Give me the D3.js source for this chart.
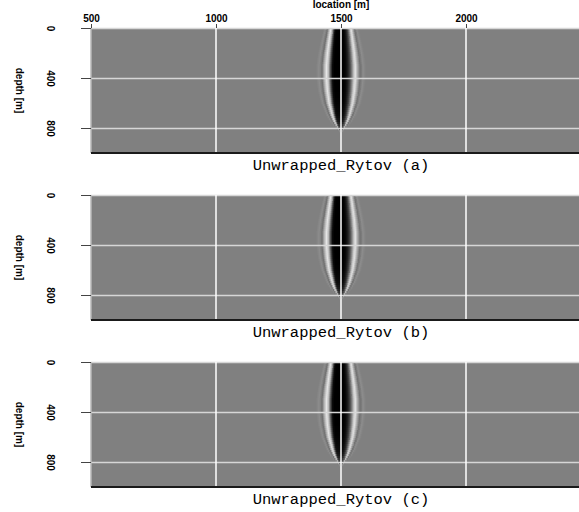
<!DOCTYPE html>
<meta charset="utf-8">
<title>Unwrapped Rytov</title>
<style>
body { margin: 0; background: #fff; }
svg { display: block; }
.tick text { font-family: "Liberation Sans", Arial, sans-serif; font-weight: bold; font-size: 10px; }
.title { font-family: "Courier New", "Liberation Mono", monospace; font-size: 15.5px; }
</style>
<svg width="579" height="512"></svg>
<script src="https://d3js.org/d3.v7.min.js"></script>
<script>

var panels = ["(a)", "(b)", "(c)"];
var xTicks = [500, 1000, 1500, 2000];
var yTicks = [0, 400, 800];
var center = 1500;

// lateral amplitude profile across the anomaly (offset from 1500 m, -1 = black, +1 = white)
var offsets = [-120, -100, -88, -76, -66, -58, -50, -42, -34, -26, -12, 0, 12, 20, 28, 36, 44, 52, 58, 66, 76, 88, 100, 120];
var profile = [0, 0, 0.1, -0.12, 0.45, 0.8, 0.45, -0.35, -0.92, -1, -1, -1, -1, -0.92, -0.75, -0.45, 0.05, 0.6, 0.75, 0.35, -0.12, 0.1, 0, 0];

// envelope with depth: width factor and amplitude factor
var depths = [0, 100, 200, 300, 400, 500, 600, 700, 750, 800, 840];
var widthF = [0.7, 0.82, 0.93, 1.0, 1.0, 0.94, 0.82, 0.6, 0.44, 0.22, 0.05];
var ampF   = [1, 1, 1, 1, 1, 1, 0.98, 0.92, 0.8, 0.45, 0];

var svg = d3.select("svg"),
    width = +svg.attr("width");

var x = d3.scaleLinear().domain([500, 2500]).range([91, 591]);
var prof = d3.scaleLinear().domain(offsets).range(profile).clamp(true);
var wEnv = d3.scaleLinear().domain(depths).range(widthF).clamp(true);
var aEnv = d3.scaleLinear().domain(depths).range(ampF).clamp(true);
var gray = d3.scaleLinear().domain([-1, 0, 1]).range(["#000000", "#808080", "#ffffff"]).clamp(true);

// cells of the image
var dx = 4, dz = 16, cells = [];
d3.range(-120, 120, dx).forEach(function(o) {
  d3.range(0, 1000, dz).forEach(function(z) {
    var zc = z + dz / 2, wf = wEnv(zc), a = aEnv(zc);
    var v = wf > 0.01 ? prof((o + dx / 2) / wf) * a : 0;
    if (Math.abs(v) > 0.01) cells.push({x: center + o, z: z, v: v});
  });
});

panels.forEach(function(label, i) {
  var top = 28 + i * 167, h = 125;
  var y = d3.scaleLinear().domain([0, 1000]).range([top, top + h]);
  var g = svg.append("g");

  g.append("rect")
    .attr("x", x(500)).attr("y", top)
    .attr("width", width - x(500)).attr("height", h)
    .attr("fill", "#808080");

  g.selectAll("rect.cell")
    .data(cells)
    .enter().append("rect")
      .attr("class", "cell")
      .attr("x", function(d) { return x(d.x); })
      .attr("y", function(d) { return y(d.z); })
      .attr("width", x(center + dx) - x(center) + 0.3)
      .attr("height", y(dz) - y(0) + 0.3)
      .attr("fill", function(d) { return gray(d.v); });

  // grid
  g.selectAll("line.hg")
    .data(yTicks)
    .enter().append("line")
      .attr("x1", x(500)).attr("x2", width)
      .attr("y1", function(d) { return y(d) + 0.5; })
      .attr("y2", function(d) { return y(d) + 0.5; })
      .attr("stroke", "#d6d6d6").attr("stroke-width", 1.5);

  g.selectAll("line.vg")
    .data(xTicks.slice(1))
    .enter().append("line")
      .attr("x1", function(d) { return x(d); })
      .attr("x2", function(d) { return x(d); })
      .attr("y1", top).attr("y2", top + h)
      .attr("stroke", "#ffffff").attr("stroke-width", 1.5);

  g.append("line")
    .attr("x1", x(500)).attr("x2", x(500))
    .attr("y1", top).attr("y2", top + h)
    .attr("stroke", "#b8b8b8").attr("stroke-width", 1.5);

  g.append("line")
    .attr("x1", x(500)).attr("x2", width)
    .attr("y1", top + h).attr("y2", top + h)
    .attr("stroke", "#1a1a1a").attr("stroke-width", 2);

  // left axis
  var ya = g.append("g")
    .attr("transform", "translate(" + x(500) + ",0)")
    .call(d3.axisLeft(y).tickValues(yTicks).tickSize(10).tickPadding(0).tickFormat(d3.format("d")));
  ya.select(".domain").remove();
  ya.selectAll(".tick line").attr("stroke", "#444");
  ya.selectAll(".tick text")
    .attr("x", -41).attr("dy", null)
    .attr("text-anchor", "middle")
    .attr("transform", function() { return "rotate(90," + (-41) + ",0)"; })
    .attr("y", 0)
    .attr("dominant-baseline", "central");

  g.append("text")
    .attr("transform", "translate(19," + (top + h / 2) + ") rotate(90)")
    .attr("text-anchor", "middle")
    .attr("dominant-baseline", "central")
    .attr("font-family", "Liberation Sans, Arial, sans-serif")
    .attr("font-weight", "bold")
    .attr("font-size", "10px")
    .text("depth [m]");

  if (i === 0) {
    var xa = g.append("g")
      .attr("transform", "translate(0," + top + ")")
      .call(d3.axisTop(x).tickValues(xTicks).tickSize(4).tickPadding(2).tickFormat(d3.format("d")));
    xa.select(".domain").remove();
    xa.selectAll(".tick line").attr("stroke", "#444");

    g.append("text")
      .attr("x", x(center)).attr("y", 8)
      .attr("text-anchor", "middle")
      .attr("font-family", "Liberation Sans, Arial, sans-serif")
      .attr("font-weight", "bold")
      .attr("font-size", "10px")
      .text("location [m]");
  }

  g.append("text")
    .attr("class", "title")
    .attr("x", x(center)).attr("y", top + h + 17)
    .attr("text-anchor", "middle")
    .text("Unwrapped_Rytov " + label);
});

</script>
